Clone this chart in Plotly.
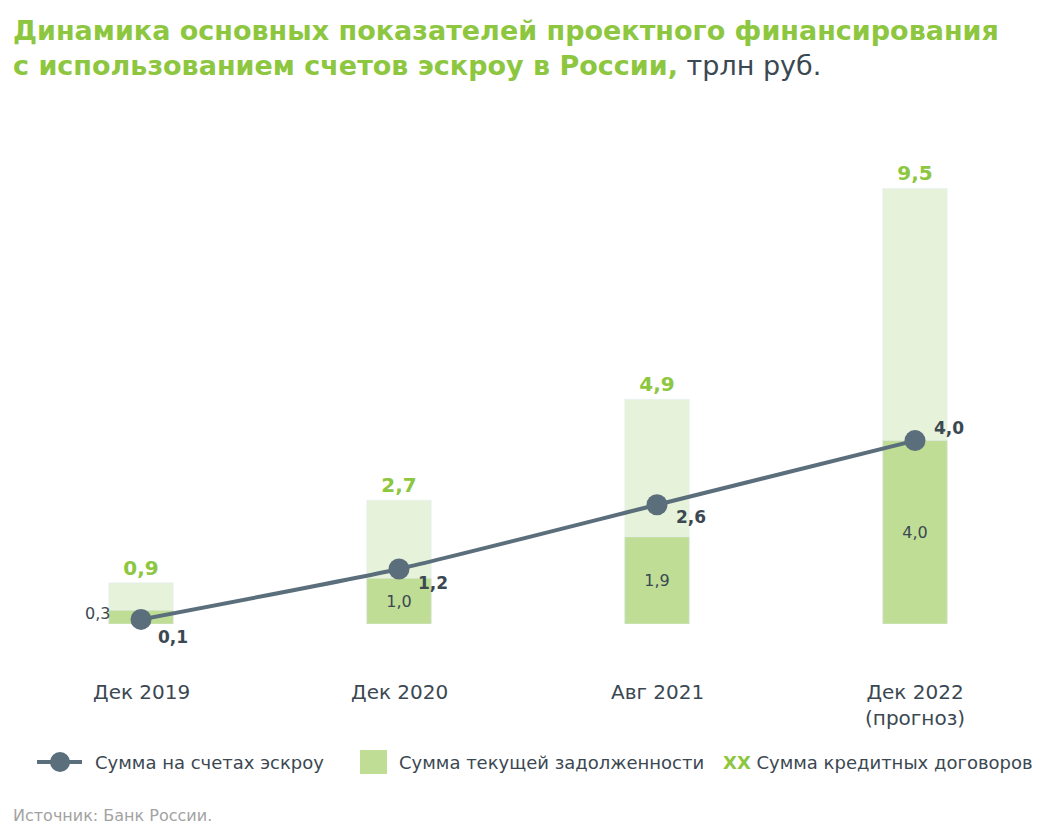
import plotly.graph_objects as go

categories = ["Дек 2019", "Дек 2020", "Авг 2021", "Дек 2022<br>(прогноз)"]
total_contracts = [0.9, 2.7, 4.9, 9.5]   # Сумма кредитных договоров
current_debt = [0.3, 1.0, 1.9, 4.0]      # Сумма текущей задолженности
escrow = [0.1, 1.2, 2.6, 4.0]            # Сумма на счетах эскроу

GREEN = "#8dc63f"
LIGHT = "#e7f2da"
MID = "#bfdd95"
LINE = "#5a6e7b"
DARK = "#3b4852"
FONT = "DejaVu Sans"

def fmt(v):
    return f"{v:.1f}".replace(".", ",")

OFF = 8  # page body offset
W, H = 1052 - OFF, 840 - OFF
ML, MT = 12 - OFF, 138 - OFF
PW, PH = 1032, 486
MR = W - ML - PW
MB = H - MT - PH

def px(x):
    return (x - OFF - ML) / PW

def py(y):
    return (MT + PH - (y - OFF)) / PH

fig = go.Figure()

fig.add_trace(go.Bar(
    x=categories, y=total_contracts, marker_color=LIGHT, width=0.25,
    text=[f"<b>{fmt(v)}</b>" for v in total_contracts], textposition="outside",
    textfont=dict(family=FONT, size=20, color=GREEN), cliponaxis=False,
    hoverinfo="skip", name="Сумма кредитных договоров",
))
fig.add_trace(go.Bar(
    x=categories, y=current_debt, marker_color=MID, width=0.25,
    text=["" if i == 0 else fmt(v) for i, v in enumerate(current_debt)],
    textposition="inside", insidetextanchor="middle",
    textfont=dict(family=FONT, size=16, color=DARK),
    hoverinfo="skip", name="Сумма текущей задолженности",
))
fig.add_trace(go.Scatter(
    x=categories, y=escrow, mode="lines+markers",
    line=dict(color=LINE, width=4, shape="spline", smoothing=0.5),
    marker=dict(size=21, color=LINE), cliponaxis=False,
    name="Сумма на счетах эскроу",
))

ann = []
ann.append(dict(x=categories[0], y=current_debt[0], xref="x", yref="y",
                text=fmt(current_debt[0]), showarrow=False, xanchor="right",
                yanchor="middle", xshift=-29, yshift=-3,
                font=dict(family=FONT, size=16, color=DARK)))
shifts = [(32, -18), (34, -14), (34, -12), (34, 13)]
for c, v, (dx, dy) in zip(categories, escrow, shifts):
    ann.append(dict(x=c, y=v, xref="x", yref="y", text=f"<b>{fmt(v)}</b>",
                    showarrow=False, xshift=dx, yshift=dy, yanchor="middle",
                    font=dict(family=FONT, size=17, color=DARK)))
for c in categories:
    ann.append(dict(x=c, y=0, xref="x", yref="y", text=c, showarrow=False,
                    yanchor="top", yshift=-54,
                    font=dict(family=FONT, size=20, color=DARK)))
ann.append(dict(x=px(11), y=py(13), xref="paper", yref="paper", xanchor="left",
                yanchor="top", align="left", showarrow=False,
                text=(f"<span style='color:{GREEN}'><b>Динамика основных показателей проектного финансирования</b></span><br>"
                      f"<span style='color:{GREEN}'><b>с использованием счетов эскроу в России,</b></span>"
                      f"<span style='color:{DARK}'> трлн руб.</span>"),
                font=dict(family=FONT, size=27, color=GREEN)))
ann.append(dict(x=px(93), y=py(762), xref="paper", yref="paper", xanchor="left",
                yanchor="middle", showarrow=False, text="Сумма на счетах эскроу",
                font=dict(family=FONT, size=18, color=DARK)))
ann.append(dict(x=px(397), y=py(762), xref="paper", yref="paper", xanchor="left",
                yanchor="middle", showarrow=False, text="Сумма текущей задолженности",
                font=dict(family=FONT, size=18, color=DARK)))
ann.append(dict(x=px(721), y=py(762), xref="paper", yref="paper", xanchor="left",
                yanchor="middle", showarrow=False,
                text=f"<span style='color:{GREEN}'><b>XX</b></span> Сумма кредитных договоров",
                font=dict(family=FONT, size=18, color=DARK)))
ann.append(dict(x=px(11), y=py(815), xref="paper", yref="paper", xanchor="left",
                yanchor="middle", showarrow=False, text="Источник: Банк России.",
                font=dict(family=FONT, size=16, color="#a3a3a3")))

shapes = [
    dict(type="line", xref="paper", yref="paper", x0=px(37), x1=px(82),
         y0=py(762), y1=py(762), line=dict(color=LINE, width=4)),
    dict(type="circle", xref="paper", yref="paper", x0=px(50), x1=px(70),
         y0=py(752), y1=py(772), fillcolor=LINE, line=dict(width=0)),
    dict(type="rect", xref="paper", yref="paper", x0=px(360), x1=px(387),
         y0=py(750), y1=py(774), fillcolor=MID, line=dict(width=0)),
]

fig.update_layout(
    width=W, height=H, margin=dict(l=ML, r=MR, t=MT, b=MB),
    plot_bgcolor="white", paper_bgcolor="white",
    barmode="overlay", showlegend=False,
    xaxis=dict(showticklabels=False, showgrid=False, zeroline=False,
               showline=False, ticks=""),
    yaxis=dict(range=[0, 10.6], visible=False),
    annotations=ann, shapes=shapes,
    font=dict(family=FONT, color=DARK),
)

fig.write_html("out.html")
